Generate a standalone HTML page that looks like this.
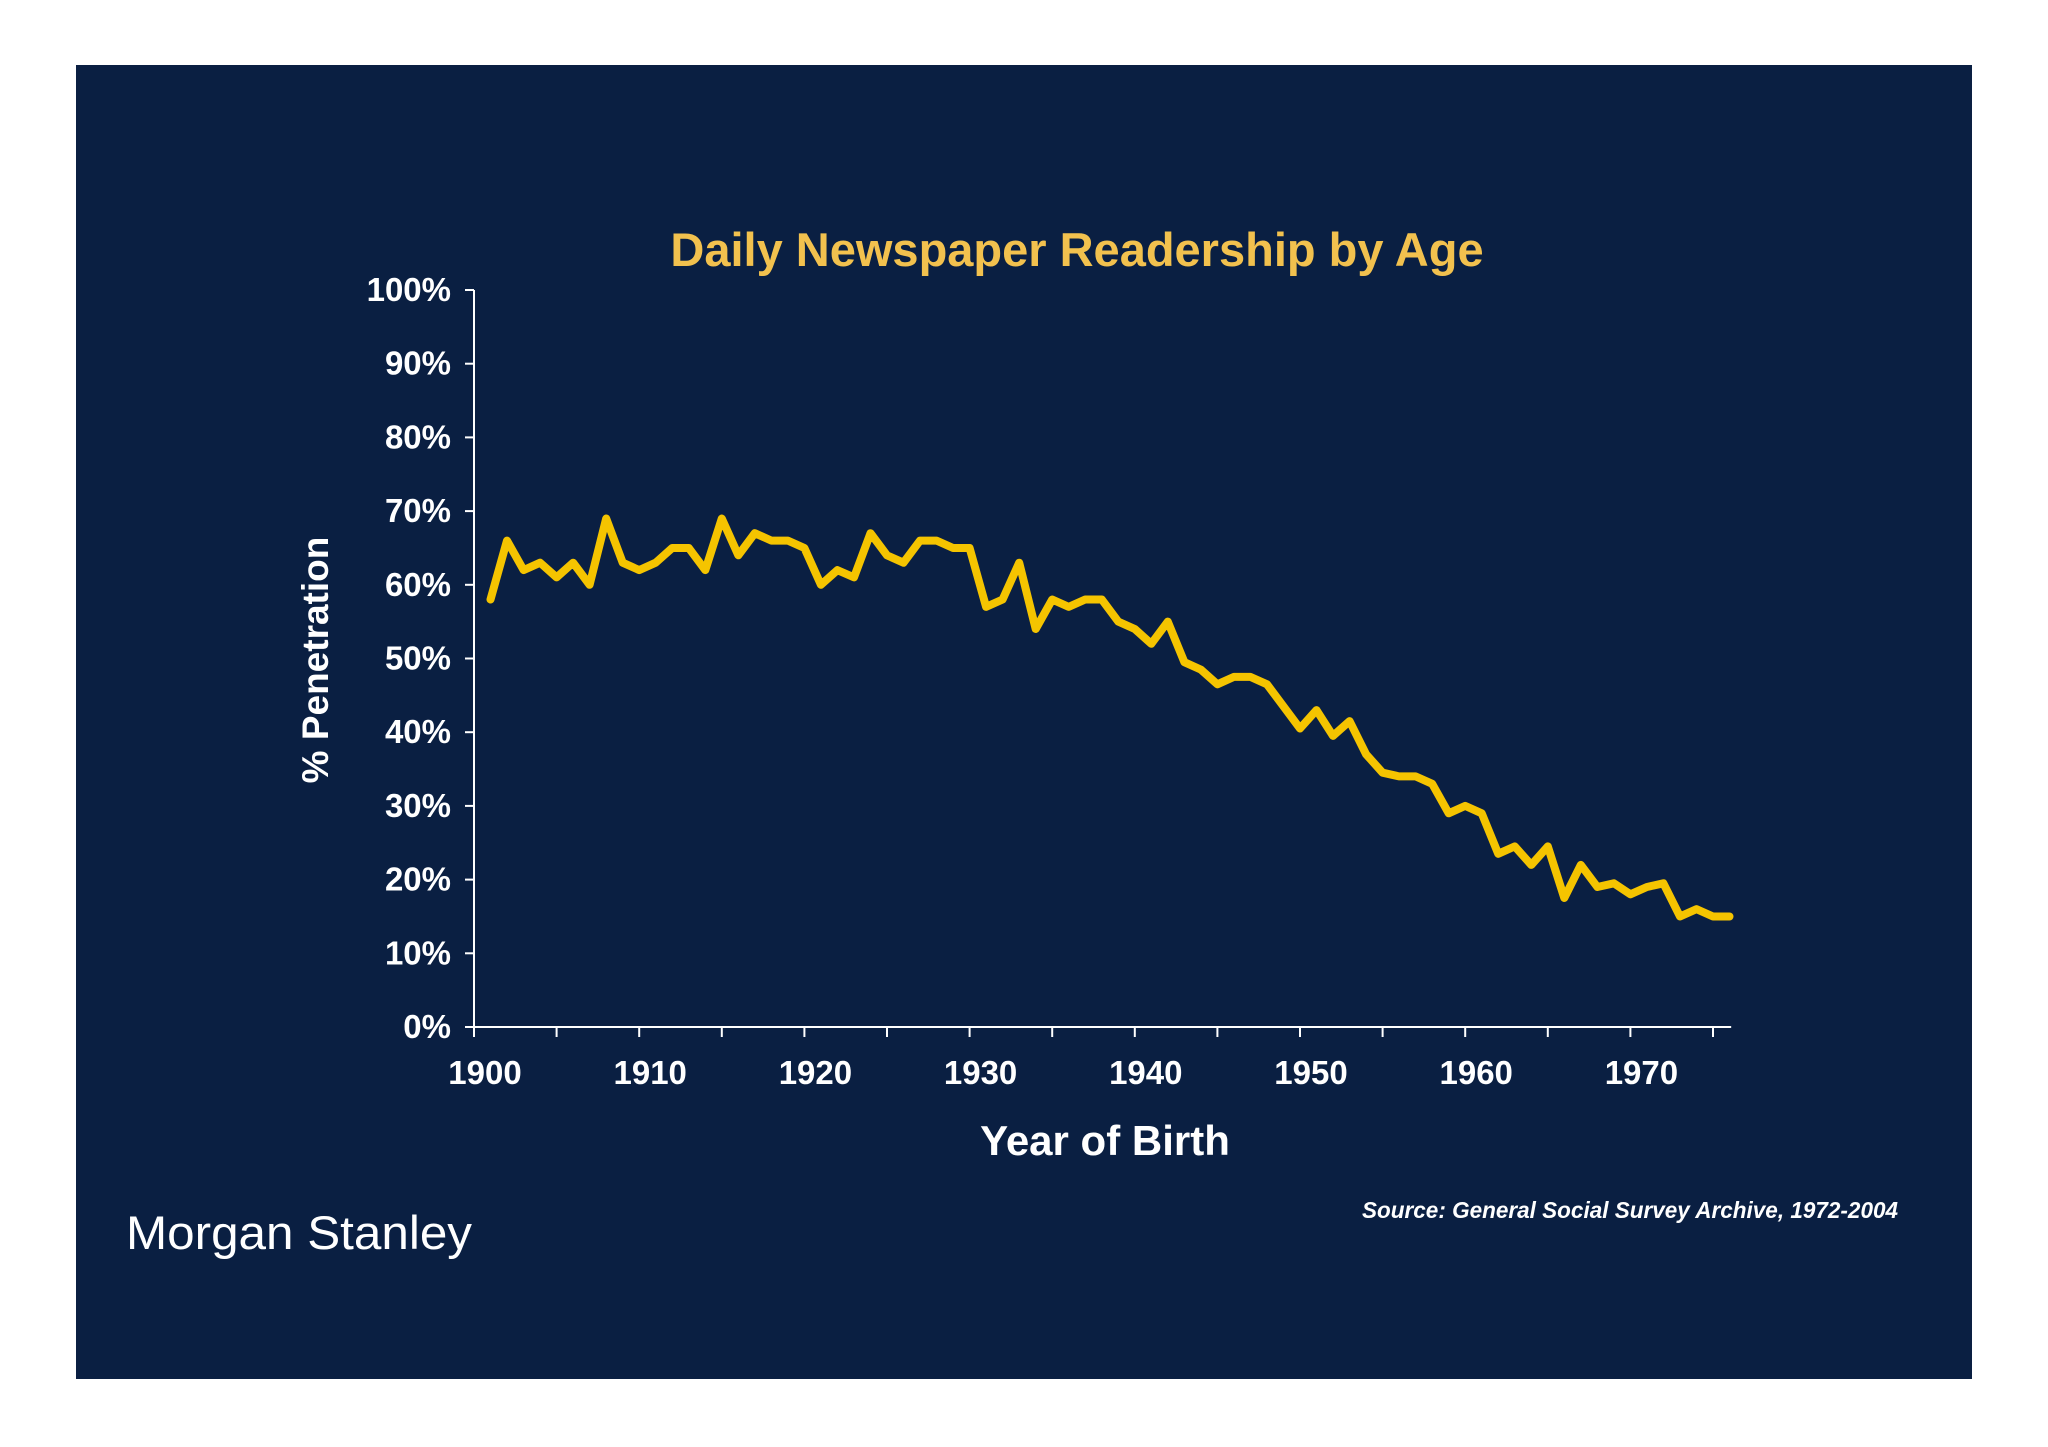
<!DOCTYPE html>
<html><head><meta charset="utf-8"><style>
html,body{margin:0;padding:0;background:#fff;}
svg{display:block;}
text{font-family:"Liberation Sans",Arial,sans-serif;}
</style></head><body>
<svg id="chart" width="2048" height="1447" viewBox="0 0 2048 1447">
<rect x="76" y="65" width="1896" height="1314" fill="#0a1f42"/>
<text x="1077" y="266" text-anchor="middle" font-size="47" font-weight="bold" fill="#f2c14e">Daily Newspaper Readership by Age</text>
<text transform="translate(328,660) rotate(-90)" text-anchor="middle" font-size="37" font-weight="bold" fill="#fff">% Penetration</text>
<text x="1105" y="1155" text-anchor="middle" font-size="42" font-weight="bold" fill="#fff">Year of Birth</text>
<text x="126" y="1249" font-size="47" fill="#fff" textLength="346" lengthAdjust="spacingAndGlyphs">Morgan Stanley</text>
<text x="1898" y="1218" text-anchor="end" font-size="23" font-style="italic" font-weight="bold" fill="#fff" textLength="536" lengthAdjust="spacingAndGlyphs">Source: General Social Survey Archive, 1972-2004</text>
<g id="axes"></g>
<g id="plot"></g>
</svg>
<script>
const years = [];
for (let y = 1901; y <= 1976; y++) years.push(y);
const readership = [58,66,62,63,61,63,60,69,63,62,63,65,65,62,69,64,67,66,66,65,60,62,61,67,64,63,66,66,65,65,57,58,63,54,58,57,58,58,55,54,52,55,49.5,48.5,46.5,47.5,47.5,46.5,43.5,40.5,43,39.5,41.5,37,34.5,34,34,33,29,30,29,23.5,24.5,22,24.5,17.5,22,19,19.5,18,19,19.5,15,16,15,15];
const yTicks = [0,10,20,30,40,50,60,70,80,90,100];
const xTickYears = [1900,1905,1910,1915,1920,1925,1930,1935,1940,1945,1950,1955,1960,1965,1970,1975];
const xLabels = [1900,1910,1920,1930,1940,1950,1960,1970];

const X0 = 474, PXYR = 16.52, Y0 = 1027, Y100 = 290;
const sx = y => X0 + (y - 1900) * PXYR;
const sy = v => Y0 - (v / 100) * (Y0 - Y100);
const NS = "http://www.w3.org/2000/svg";
const axes = document.getElementById('axes');
const plot = document.getElementById('plot');
function mk(tag, attrs, parent) {
  const e = document.createElementNS(NS, tag);
  for (const k in attrs) e.setAttribute(k, attrs[k]);
  parent.appendChild(e);
  return e;
}
let e = mk('line', {x1: X0, y1: Y100, x2: X0, y2: Y0, stroke: '#fff', 'stroke-width': 2}, axes);


e = mk('line', {x1: X0, y1: Y0, x2: sx(1976.1), y2: Y0, stroke: '#fff', 'stroke-width': 2}, axes);


yTicks.forEach(v => {
  const t = mk('line', {x1: X0 - 9, y1: sy(v), x2: X0, y2: sy(v), stroke: '#fff', 'stroke-width': 2}, axes);
  
  
  const l = mk('text', {x: 451, y: sy(v) + 11, 'text-anchor': 'end', 'font-size': 33, 'font-weight': 'bold', fill: '#fff'}, axes);
  l.textContent = v + '%';
  
  
});
xTickYears.forEach(y => {
  const t = mk('line', {x1: sx(y), y1: Y0, x2: sx(y), y2: Y0 + 10, stroke: '#fff', 'stroke-width': 2}, axes);
  
  
});
xLabels.forEach(y => {
  const l = mk('text', {x: sx(y) + 11, y: 1084, 'text-anchor': 'middle', 'font-size': 33, 'font-weight': 'bold', fill: '#fff'}, axes);
  l.textContent = y;
  
  
});
const d = years.map((y, i) => (i ? 'L' : 'M') + sx(y).toFixed(1) + ',' + sy(readership[i]).toFixed(1)).join(' ');
const line = mk('path', {d: d, fill: 'none', stroke: '#f5c400', 'stroke-width': 8, 'stroke-linejoin': 'round', 'stroke-linecap': 'round'}, plot);


</script>
</body></html>
